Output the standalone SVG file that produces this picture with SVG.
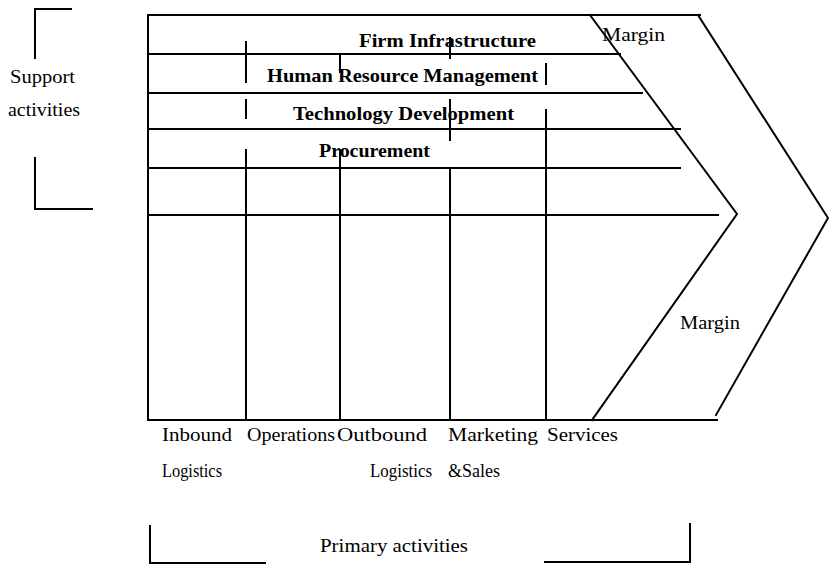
<svg xmlns="http://www.w3.org/2000/svg" width="829" height="565" viewBox="0 0 829 565">
<style>
.ln{stroke:#000;stroke-width:2;fill:none;stroke-linecap:square}
.b{font-family:"Liberation Serif","Times New Roman",serif;font-weight:bold;font-size:19px;fill:#000}
.r{font-family:"Liberation Serif","Times New Roman",serif;font-size:18px;fill:#000}
</style>
<rect width="829" height="565" fill="#fff"/>
<g id="connectors">
<path class="ln" d="M148,15H700 M148,54H620 M148,93H642 M148,129H680 M148,168H680 M148,215H718 M148,420H717"/>
<path class="ln" d="M148,15V420 M246,42V82 M246,100V118 M246,150V420 M340,54V72 M340,150V420 M450,38V58 M450,100V140 M450,168V420 M546,64V84 M546,110V420"/>
<polyline class="ln" points="590,15 737,214 592,420"/>
<polyline class="ln" points="698,15 828,218 716,415"/>
<path class="ln" d="M71,9H35V58 M35,158V209H92"/>
<path class="ln" d="M150,526V563H265 M545,562H690V524"/>
</g>
<g id="support-label">
<text class="r" x="10" y="83" textLength="65" lengthAdjust="spacingAndGlyphs">Support</text>
<text class="r" x="8" y="116" textLength="72" lengthAdjust="spacingAndGlyphs">activities</text>
</g>
<g id="firm-infrastructure"><text class="b" x="359" y="47" textLength="177" lengthAdjust="spacingAndGlyphs">Firm Infrastructure</text></g>
<g id="hrm"><text class="b" x="267" y="82" textLength="271" lengthAdjust="spacingAndGlyphs">Human Resource Management</text></g>
<g id="tech-dev"><text class="b" x="293" y="120" textLength="221" lengthAdjust="spacingAndGlyphs">Technology Development</text></g>
<g id="procurement"><text class="b" x="319" y="157" textLength="111" lengthAdjust="spacingAndGlyphs">Procurement</text></g>
<g id="margin-top"><text class="r" x="602" y="41" textLength="63" lengthAdjust="spacingAndGlyphs">Margin</text></g>
<g id="margin-mid"><text class="r" x="680" y="329" textLength="60" lengthAdjust="spacingAndGlyphs">Margin</text></g>
<g id="inbound-logistics">
<text class="r" x="162" y="441" textLength="70" lengthAdjust="spacingAndGlyphs">Inbound</text>
<text class="r" x="162" y="477" textLength="60" lengthAdjust="spacingAndGlyphs">Logistics</text>
</g>
<g id="operations"><text class="r" x="247" y="441" textLength="88" lengthAdjust="spacingAndGlyphs">Operations</text></g>
<g id="outbound-logistics">
<text class="r" x="337" y="441" textLength="90" lengthAdjust="spacingAndGlyphs">Outbound</text>
<text class="r" x="370" y="477" textLength="62" lengthAdjust="spacingAndGlyphs">Logistics</text>
</g>
<g id="marketing-sales">
<text class="r" x="448" y="441" textLength="90" lengthAdjust="spacingAndGlyphs">Marketing</text>
<text class="r" x="448" y="477" textLength="52" lengthAdjust="spacingAndGlyphs">&amp;Sales</text>
</g>
<g id="services"><text class="r" x="547" y="441" textLength="71" lengthAdjust="spacingAndGlyphs">Services</text></g>
<g id="primary-label"><text class="r" x="320" y="552" textLength="148" lengthAdjust="spacingAndGlyphs">Primary activities</text></g>
</svg>
